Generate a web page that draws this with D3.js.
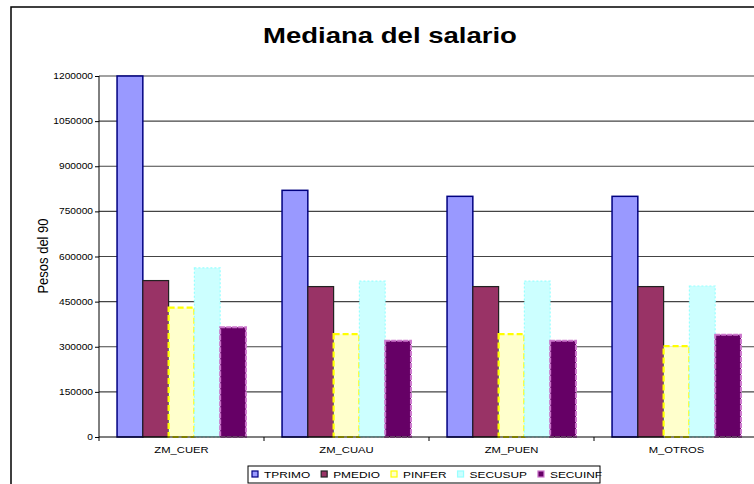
<!DOCTYPE html>
<html><head><meta charset="utf-8">
<script src="https://cdn.jsdelivr.net/npm/d3@7"></script>
<style>body{margin:0;background:#fff}svg{display:block}</style>
</head><body>
<svg id="c" width="754" height="484"></svg>
<script>
const categories = ["ZM_CUER", "ZM_CUAU", "ZM_PUEN", "M_OTROS"];
const seriesNames = ["TPRIMO", "PMEDIO", "PINFER", "SECUSUP", "SECUINF"];
const TPRIMO  = [1200000, 820000, 800000, 800000];
const PMEDIO  = [520000, 500000, 500000, 500000];
const PINFER  = [430000, 342000, 342000, 302000];
const SECUSUP = [562000, 518000, 518000, 502000];
const SECUINF = [365000, 320000, 320000, 340000];
const yTicks = [0, 150000, 300000, 450000, 600000, 750000, 900000, 1050000, 1200000];
const titleText = "Mediana del salario";
const yLabel = "Pesos del 90";

const seriesValues = [TPRIMO, PMEDIO, PINFER, SECUSUP, SECUINF];
const styles = {
  TPRIMO:  {fill:"#9999FF", stroke:"#000080", dash:null, sw:1.5},
  PMEDIO:  {fill:"#993366", stroke:"#222222", dash:null, sw:1.2},
  PINFER:  {fill:"#FFFFCC", stroke:"#FFFF00", dash:"6,3", sw:2.2},
  SECUSUP: {fill:"#CCFFFF", stroke:"#99FFFF", dash:"2,2", sw:1.2},
  SECUINF: {fill:"#660066", stroke:"#CC77CC", dash:"5,1", sw:2}
};

const svg = d3.select("#c");
const SX = 1.25;
function stext(parent, x, y, txt, size, anchor, weight, sx) {
  const g = parent.append("g").attr("transform", `translate(${x},${y}) scale(${sx},1)`);
  g.append("text").attr("x",0).attr("y",0)
    .attr("font-family","'Liberation Sans', Arial, sans-serif")
    .attr("font-size", size).attr("font-weight", weight||"normal")
    .attr("text-anchor", anchor).attr("fill","#000").text(txt);
  return g;
}

// outer frame
svg.append("rect").attr("x",11).attr("y",7).attr("width",800).attr("height",520)
  .attr("fill","#fff").attr("stroke","#000").attr("stroke-width",1.5);

const x0 = d3.scaleBand().domain(categories).range([99, 759]).paddingInner(0).paddingOuter(0);
const x1 = d3.scaleBand().domain(seriesNames).range([0, x0.bandwidth()]).paddingInner(0).paddingOuter(0.7);
const y = d3.scaleLinear().domain([0, 1200000]).range([437, 76]);

// gridlines
svg.append("g").selectAll("line").data(yTicks.filter(d=>d>0)).join("line")
  .attr("x1",99).attr("x2",754).attr("y1",d=>y(d)).attr("y2",d=>y(d))
  .attr("stroke","#444").attr("stroke-width",1.2);

// bars
const groups = svg.append("g").selectAll("g").data(categories).join("g")
  .attr("transform", d=>`translate(${x0(d)},0)`);
groups.each(function(cat, ci) {
  const g = d3.select(this);
  seriesNames.forEach((s, si) => {
    const v = seriesValues[si][ci];
    const st = styles[s];
    g.append("rect")
      .attr("x", x1(s)).attr("y", y(v))
      .attr("width", x1.bandwidth()).attr("height", y(0) - y(v))
      .attr("fill", st.fill).attr("stroke", st.stroke)
      .attr("stroke-width", st.sw).attr("stroke-dasharray", st.dash);
  });
});

// axes
const yAxis = d3.axisLeft(y).tickValues(yTicks).tickSize(4).tickFormat(d3.format("d"));
const ya = svg.append("g").attr("transform","translate(99,0)").call(yAxis);
ya.selectAll("text").remove();
ya.select(".domain").attr("stroke","#000").attr("d","M0,76V437");
ya.selectAll(".tick line").attr("stroke","#000");
yTicks.forEach(t => stext(svg, 93, y(t)+3, d3.format("d")(t), 8.5, "end", "normal", 1.2));

const xa = svg.append("g").attr("transform","translate(0,437)");
xa.append("line").attr("x1",99).attr("x2",754).attr("y1",0).attr("y2",0).attr("stroke","#000").attr("stroke-width",1.2);
xa.selectAll("line.tk").data(categories.concat(["_end"])).join("line").attr("class","tk")
  .attr("x1",(d,i)=>99 + i*x0.step()).attr("x2",(d,i)=>99 + i*x0.step())
  .attr("y1",0).attr("y2",4).attr("stroke","#000");
categories.forEach(c => stext(svg, x0(c)+x0.bandwidth()/2, 453, c, 9, "middle", "normal", SX));

// title
stext(svg, 390, 43, titleText, 21.5, "middle", "bold", 1.28);

// y label
const yl = svg.append("g").attr("transform","translate(48,256) scale(1.15,1) rotate(-90)");
yl.append("text").attr("text-anchor","middle").attr("font-family","'Liberation Sans', Arial, sans-serif")
  .attr("font-size",13).text(yLabel);

// legend
const leg = svg.append("g");
leg.append("rect").attr("x",248).attr("y",466).attr("width",352).attr("height",17)
  .attr("fill","#fff").attr("stroke","#000").attr("stroke-width",1);
let lx = 252;
seriesNames.forEach(s => {
  const st = styles[s];
  leg.append("rect").attr("x",lx).attr("y",471).attr("width",6).attr("height",6)
    .attr("fill",st.fill).attr("stroke",st.stroke).attr("stroke-width",1.2);
  const tg = stext(leg, lx+12, 478, s, 9.5, "start", "normal", SX);
  const w = tg.select("text").node().getComputedTextLength()*SX;
  lx = lx + 12 + w + 11;
});
</script>
</body></html>
